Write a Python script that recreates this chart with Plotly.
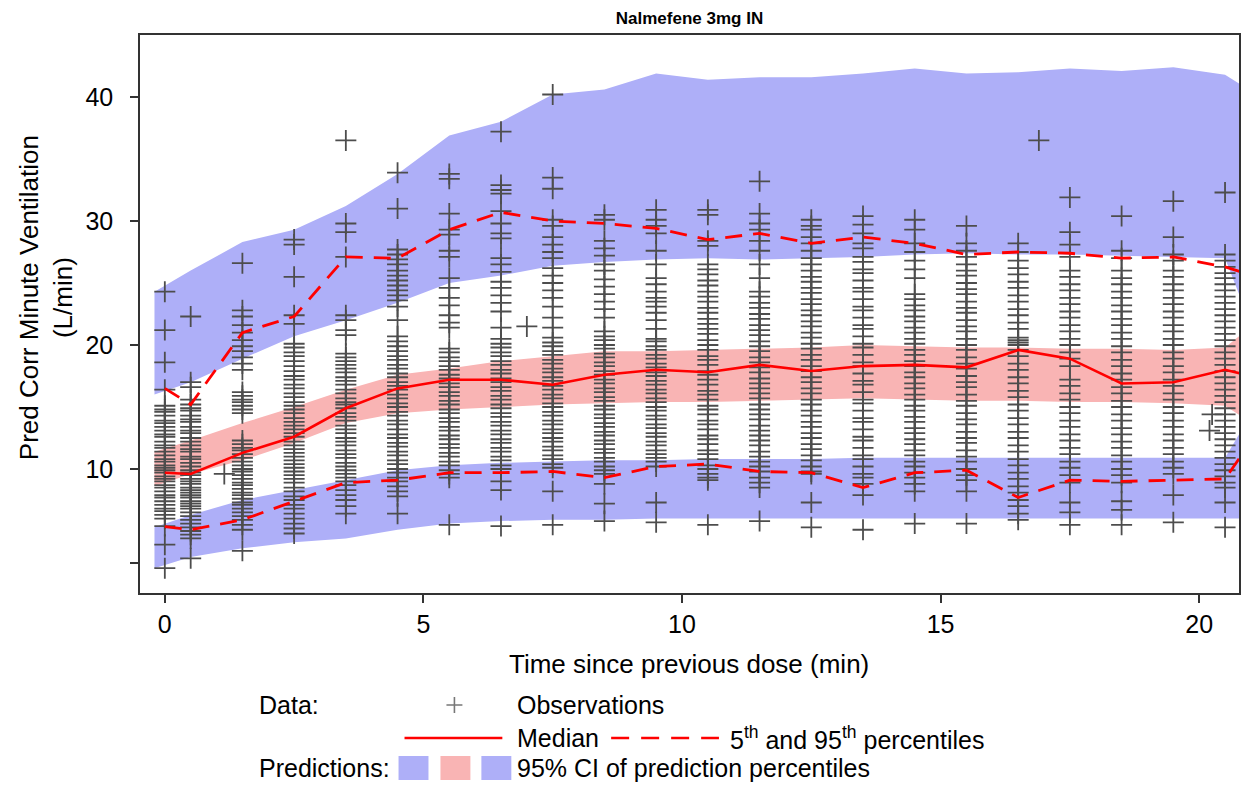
import plotly.graph_objects as go

# ---------------- data ----------------
pct_time = [0, 0.5, 1.5, 2.5, 3.5, 4.5, 5.5, 6.5, 7.5, 8.5, 9.5, 10.5,
            11.5, 12.5, 13.5, 14.5, 15.5, 16.5, 17.5, 18.5, 19.5, 20.5, 20.8]
obs_median = [9.7, 9.6, 11.3, 12.6, 14.9, 16.5, 17.2, 17.2, 16.8, 17.6, 18.0, 17.8,
              18.4, 17.9, 18.3, 18.4, 18.2, 19.6, 18.9, 16.9, 17.0, 18.0, 17.7]
obs_p05 = [5.35, 5.1, 5.9, 7.4, 8.9, 9.1, 9.7, 9.7, 9.8, 9.3, 10.2, 10.4,
           9.8, 9.7, 8.5, 9.7, 9.9, 7.7, 9.1, 9.0, 9.1, 9.2, 11.0]
obs_p95 = [16.5, 15.2, 21.0, 22.3, 27.1, 27.0, 29.3, 30.7, 30.0, 29.8, 29.4, 28.5,
           29.0, 28.2, 28.7, 28.2, 27.3, 27.5, 27.4, 27.0, 27.1, 26.3, 25.9]

band_time = [-0.2, 0.5, 1.5, 2.5, 3.5, 4.5, 5.5, 6.5, 7.5, 8.5, 9.5, 10.5,
             11.5, 12.5, 13.5, 14.5, 15.5, 16.5, 17.5, 18.5, 19.5, 20.5, 20.8]
ci_p95_hi = [24.3, 26.0, 28.3, 29.3, 31.2, 33.8, 36.9, 38.0, 40.2, 40.6, 41.9, 41.4,
             41.6, 41.6, 41.9, 42.3, 41.9, 42.0, 42.3, 42.1, 42.4, 41.8, 41.0]
ci_p95_lo = [16.0, 17.0, 18.9, 20.7, 22.0, 23.4, 25.0, 25.6, 26.4, 26.7, 26.9, 27.0,
             26.9, 27.0, 27.1, 27.3, 27.4, 27.3, 27.3, 27.2, 27.1, 27.0, 23.8]
ci_p50_hi = [11.4, 12.3, 13.7, 15.0, 16.4, 17.6, 18.1, 18.7, 19.1, 19.5, 19.5, 19.6,
             19.7, 19.8, 20.0, 19.9, 19.8, 19.8, 19.7, 19.7, 19.6, 19.8, 20.8]
ci_p50_lo = [8.6, 9.6, 10.7, 12.1, 13.7, 14.5, 14.8, 15.0, 15.2, 15.3, 15.4, 15.4,
             15.5, 15.6, 15.7, 15.6, 15.5, 15.5, 15.4, 15.4, 15.3, 15.1, 14.3]
ci_p05_hi = [5.3, 6.3, 7.5, 8.3, 9.1, 9.9, 10.3, 10.5, 10.6, 10.7, 10.7, 10.8,
             10.8, 10.8, 10.9, 10.9, 10.9, 10.9, 10.9, 10.9, 10.9, 10.9, 13.0]
ci_p05_lo = [2.0, 2.9, 3.6, 4.1, 4.4, 5.1, 5.6, 5.8, 5.9, 5.9, 6.0, 6.0,
             6.0, 6.0, 6.0, 6.0, 6.0, 6.0, 6.0, 6.0, 6.0, 6.0, 6.0]

obs_t00 = [24.3, 21.2, 18.6, 16.4, 15.1, 14.8, 14.6, 14.3, 13.9, 13.7, 13.4, 13.1, 12.8, 12.6,
           12.2, 11.9, 11.7, 11.4, 11.1, 10.8, 10.6, 10.3, 10.1, 9.9, 9.7, 9.4, 9.2, 9.0, 8.7,
           8.5, 8.2, 7.9, 7.7, 7.4, 7.1, 6.8, 6.6, 6.3, 6.0, 5.4, 3.9, 2.0]
obs_t05 = [22.3, 17.0, 16.6, 15.6, 15.2, 14.9, 14.7, 14.3, 14.0, 13.8, 13.4, 13.1, 12.9, 12.5,
           12.2, 11.9, 11.6, 11.4, 11.0, 10.8, 10.5, 10.2, 9.9, 9.7, 9.5, 9.2, 9.0, 8.8, 8.5,
           8.3, 8.1, 7.9, 7.7, 7.4, 7.2, 7.0, 6.8, 6.5, 6.2, 5.9, 5.6, 5.3, 5.0, 4.7, 4.4, 2.8]
obs_t15 = [26.6, 22.8, 22.3, 21.6, 21.0, 20.4, 19.9, 19.5, 19.0, 18.5, 18.0, 16.2, 15.9, 15.6,
           15.4, 15.1, 14.8, 14.5, 12.3, 12.0, 11.7, 11.5, 11.2, 10.9, 10.6, 10.3, 10.0, 9.8,
           9.5, 9.2, 8.9, 8.7, 8.4, 8.1, 7.9, 7.6, 7.3, 7.1, 6.8, 6.5, 6.2, 5.9, 5.5, 5.1, 3.4]
obs_t25 = [28.5, 28.1, 25.5, 22.4, 21.7, 20.1, 19.8, 19.4, 19.1, 18.7, 18.3, 17.9, 17.5, 17.2,
           16.8, 16.5, 16.1, 15.8, 15.4, 15.1, 14.8, 14.5, 14.1, 13.8, 13.5, 13.2, 12.9, 12.6,
           12.2, 11.9, 11.6, 11.3, 11.0, 10.7, 10.4, 10.1, 9.8, 9.5, 9.2, 8.9, 8.5, 8.2, 7.8,
           7.5, 7.1, 6.8, 6.4, 6.0, 5.6, 5.2, 4.8]
obs_t35 = [36.5, 29.8, 29.1, 27.1, 22.4, 22.0, 21.2, 20.8, 19.3, 19.0, 18.7, 18.4, 18.1, 17.8,
           17.4, 17.1, 16.8, 16.4, 16.1, 15.7, 15.4, 15.2, 14.9, 14.5, 14.2, 13.9, 13.5, 13.2,
           12.9, 12.5, 12.2, 11.9, 11.5, 11.2, 10.9, 10.5, 10.2, 9.9, 9.6, 9.3, 9.0, 8.7, 8.3,
           7.9, 7.5, 7.0, 6.4]
obs_t45 = [33.9, 31.0, 27.7, 27.3, 26.9, 26.5, 26.0, 25.6, 25.2, 24.8, 24.4, 24.0, 23.6, 23.1,
           22.0, 20.7, 20.3, 19.9, 19.5, 19.1, 18.8, 18.4, 18.1, 17.7, 17.4, 17.0, 16.7, 16.4,
           16.0, 15.7, 15.3, 15.0, 14.6, 14.3, 13.9, 13.6, 13.2, 12.8, 12.5, 12.1, 11.8, 11.4,
           11.1, 10.7, 10.4, 10.0, 9.7, 9.3, 9.0, 8.6, 8.2, 7.8, 6.4]
obs_t55 = [33.8, 33.4, 30.6, 29.3, 28.9, 27.6, 27.1, 25.4, 24.6, 23.8, 23.2, 22.4, 21.8, 21.4,
           19.7, 19.4, 19.0, 18.7, 18.3, 18.0, 17.6, 17.3, 16.9, 16.6, 16.2, 15.9, 15.5, 15.2,
           14.8, 14.5, 14.1, 13.8, 13.4, 13.1, 12.7, 12.4, 12.0, 11.7, 11.3, 11.0, 10.6, 10.3,
           9.9, 9.6, 9.3, 5.5]
obs_t65 = [37.2, 32.9, 32.5, 32.2, 30.8, 29.8, 29.0, 28.6, 27.0, 26.5, 25.9, 25.1, 24.6, 24.0,
           23.4, 22.7, 21.4, 20.5, 20.1, 19.8, 19.4, 19.1, 18.7, 18.4, 18.0, 17.7, 17.3, 17.0,
           16.6, 16.3, 15.9, 15.6, 15.2, 14.9, 14.5, 14.2, 13.8, 13.5, 13.1, 12.8, 12.4, 12.1,
           11.7, 11.4, 11.0, 10.7, 10.3, 10.0, 9.0, 8.3, 5.4]
obs_t75 = [40.2, 33.5, 32.6, 30.1, 29.6, 28.7, 28.1, 27.5, 27.0, 26.2, 25.6, 25.0, 24.4, 23.8,
           23.1, 22.2, 21.4, 20.6, 20.2, 19.9, 19.5, 19.2, 18.8, 18.5, 18.1, 17.8, 17.4, 17.1,
           16.7, 16.4, 16.0, 15.7, 15.3, 15.0, 14.6, 14.3, 13.9, 13.6, 13.2, 12.9, 12.5, 12.2,
           11.8, 11.5, 11.1, 10.8, 10.4, 10.1, 8.2, 5.5]
obs_t85 = [30.5, 30.1, 28.4, 27.8, 27.2, 26.5, 26.0, 25.3, 24.7, 24.1, 23.5, 22.9, 22.2, 21.1,
           20.7, 20.4, 20.0, 19.7, 19.3, 19.0, 18.6, 18.3, 17.9, 17.6, 17.2, 16.9, 16.5, 16.2,
           15.8, 15.5, 15.1, 14.8, 14.4, 14.1, 13.7, 13.4, 13.0, 12.7, 12.3, 12.0, 11.6, 11.3,
           10.9, 10.6, 10.2, 9.9, 9.6, 8.8, 7.2, 5.8]
obs_t95 = [30.9, 30.1, 29.6, 29.0, 27.6, 26.5, 25.4, 24.9, 24.3, 23.8, 23.5, 23.1, 22.6, 22.0,
           21.3, 20.5, 20.3, 19.9, 19.6, 19.2, 18.9, 18.5, 18.2, 17.8, 17.5, 17.1, 16.8, 16.4,
           16.1, 15.7, 15.4, 15.0, 14.7, 14.3, 14.0, 13.6, 13.3, 12.9, 12.6, 12.2, 11.9, 11.5,
           11.2, 10.9, 10.6, 10.2, 7.3, 5.7]
obs_t105 = [30.9, 30.5, 28.4, 28.0, 26.5, 26.1, 25.7, 25.2, 24.8, 24.3, 23.9, 23.5, 23.0, 22.6,
            22.1, 21.7, 21.3, 20.9, 20.4, 20.0, 19.6, 19.1, 18.8, 18.4, 17.9, 17.6, 17.2, 16.8,
            16.3, 16.0, 15.6, 15.1, 14.8, 14.4, 13.9, 13.6, 13.2, 12.7, 12.4, 12.0, 11.5, 11.2,
            10.8, 10.3, 10.0, 9.6, 9.3, 9.1, 5.5]
obs_t115 = [33.2, 30.6, 29.8, 29.3, 28.4, 27.6, 26.5, 25.4, 24.3, 23.9, 23.4, 23.0, 22.5, 22.1,
            21.6, 21.2, 20.8, 20.3, 19.9, 19.5, 19.0, 18.6, 18.2, 17.8, 17.3, 16.9, 16.5, 16.1,
            15.7, 15.2, 14.8, 14.4, 14.0, 13.5, 13.1, 12.7, 12.3, 11.9, 11.4, 11.0, 10.6, 10.2,
            9.8, 9.3, 8.9, 8.5, 5.8]
obs_t125 = [30.1, 29.6, 29.3, 28.7, 28.2, 27.6, 27.0, 26.5, 26.0, 25.5, 25.1, 24.6, 24.2, 23.7,
            23.3, 22.8, 22.4, 21.9, 21.5, 21.0, 20.6, 20.1, 19.7, 19.2, 18.8, 18.3, 17.9, 17.4,
            17.0, 16.5, 16.1, 15.6, 15.2, 14.7, 14.3, 13.8, 13.4, 12.9, 12.5, 12.0, 11.6, 11.1,
            10.7, 10.2, 9.8, 9.6, 7.3, 5.3]
obs_t135 = [30.4, 29.7, 29.0, 28.2, 27.8, 27.1, 26.7, 26.1, 25.8, 25.2, 24.6, 24.3, 23.7, 23.1,
            22.8, 22.2, 21.6, 21.3, 20.7, 20.1, 19.8, 19.2, 18.6, 18.3, 17.7, 17.1, 16.8, 16.2,
            15.6, 15.3, 14.7, 14.1, 13.8, 13.2, 12.6, 12.3, 11.7, 11.1, 10.8, 10.2, 9.6, 9.3,
            8.8, 7.9, 5.1]
obs_t145 = [30.1, 29.3, 28.2, 27.5, 26.8, 26.1, 25.4, 24.1, 23.7, 23.2, 22.8, 22.3, 21.9, 21.4,
            21.0, 20.5, 20.1, 19.6, 19.2, 18.7, 18.3, 17.8, 17.4, 16.9, 16.5, 16.0, 15.6, 15.1,
            14.7, 14.2, 13.8, 13.3, 12.9, 12.4, 12.0, 11.5, 11.1, 10.6, 10.2, 9.7, 9.3, 8.8,
            8.2, 5.6]
obs_t155 = [29.6, 28.2, 27.6, 27.1, 26.5, 26.0, 25.6, 25.0, 24.5, 24.1, 23.5, 23.0, 22.6, 22.0,
            21.5, 21.1, 20.5, 20.0, 19.6, 19.0, 18.5, 18.1, 17.5, 17.0, 16.6, 16.0, 15.5, 15.1,
            14.5, 14.0, 13.6, 13.0, 12.5, 12.1, 11.5, 11.0, 10.6, 10.0, 9.5, 9.1, 8.2, 5.6]
obs_t165 = [28.2, 27.5, 26.8, 26.2, 25.7, 25.1, 24.6, 24.0, 23.5, 22.9, 22.4, 21.8, 21.3, 20.6,
            20.4, 20.2, 20.0, 19.6, 19.1, 18.5, 18.0, 17.4, 16.9, 16.3, 15.8, 15.2, 14.7, 14.1,
            13.6, 13.0, 12.5, 11.9, 11.4, 10.8, 10.3, 9.7, 9.2, 8.6, 8.1, 7.5, 7.0, 6.4, 5.9]
obs_t175 = [31.9, 29.1, 28.1, 27.1, 26.0, 25.5, 24.9, 24.4, 23.8, 23.3, 22.7, 22.2, 21.6, 21.1,
            20.5, 20.0, 19.4, 18.9, 18.3, 17.2, 16.7, 16.1, 15.6, 15.0, 14.5, 13.9, 13.4, 12.8,
            12.3, 11.7, 11.2, 10.6, 10.1, 9.5, 8.9, 7.3, 6.5, 5.5]
obs_t185 = [30.4, 27.6, 27.0, 26.0, 25.4, 24.9, 24.3, 23.8, 23.2, 22.7, 22.1, 21.6, 21.0, 20.5,
            19.9, 19.4, 18.8, 18.3, 17.7, 17.2, 16.6, 16.1, 15.5, 15.0, 14.4, 13.9, 13.3, 12.8,
            12.2, 11.7, 11.1, 10.6, 10.0, 9.5, 8.9, 7.4, 6.7, 5.5]
obs_t195 = [31.6, 28.7, 27.3, 26.8, 26.0, 25.5, 24.9, 24.4, 23.8, 23.3, 22.7, 22.2, 21.6, 21.1,
            20.5, 20.0, 19.4, 18.9, 18.3, 17.8, 17.2, 16.7, 16.1, 15.6, 15.0, 14.5, 13.9, 13.4,
            12.8, 12.3, 11.7, 11.2, 10.6, 10.1, 9.6, 7.9, 5.7]
obs_t205 = [32.3, 27.3, 26.8, 26.3, 25.8, 25.4, 24.9, 24.4, 23.9, 23.4, 22.9, 22.4, 21.9, 21.4,
            20.9, 20.4, 19.9, 19.4, 18.9, 18.4, 17.9, 17.4, 16.9, 16.4, 15.9, 15.4, 14.9, 14.4,
            13.9, 13.4, 12.9, 12.4, 11.9, 11.4, 10.9, 10.4, 9.9, 9.4, 8.9, 8.5, 7.3, 5.3]
obs_times = [0, 0.5, 1.5, 2.5, 3.5, 4.5, 5.5, 6.5, 7.5, 8.5, 9.5, 10.5,
             11.5, 12.5, 13.5, 14.5, 15.5, 16.5, 17.5, 18.5, 19.5, 20.5]
obs_columns = [obs_t00, obs_t05, obs_t15, obs_t25, obs_t35, obs_t45, obs_t55, obs_t65,
               obs_t75, obs_t85, obs_t95, obs_t105, obs_t115, obs_t125, obs_t135, obs_t145,
               obs_t155, obs_t165, obs_t175, obs_t185, obs_t195, obs_t205]
extra_time = [1.15, 7.0, 16.9, 20.2, 20.25]
extra_value = [9.6, 21.5, 36.5, 13.1, 14.4]

# ---------------- style ----------------
FONT = "Liberation Sans, Arial, Helvetica, sans-serif"
BLUE = "rgb(174,175,248)"
PINK = "rgb(249,180,180)"
RED = "#ff0000"
GREY = "#4d4d4d"
DASH = "17px,11px"

fig = go.Figure()


def band(lo, hi, color):
    fig.add_trace(go.Scatter(
        x=band_time + band_time[::-1], y=hi + lo[::-1],
        fill="toself", fillcolor=color, mode="lines",
        line=dict(width=0, color=color), hoverinfo="skip", showlegend=False))


band(ci_p95_lo, ci_p95_hi, BLUE)
band(ci_p05_lo, ci_p05_hi, BLUE)
band(ci_p50_lo, ci_p50_hi, PINK)

xs, ys = [], []
for t, col in zip(obs_times, obs_columns):
    xs += [t] * len(col)
    ys += col
xs += extra_time
ys += extra_value
fig.add_trace(go.Scatter(
    x=xs, y=ys, mode="markers",
    marker=dict(symbol="cross-thin", size=15, line=dict(width=1.8, color=GREY), color=GREY),
    showlegend=False))

fig.add_trace(go.Scatter(x=pct_time, y=obs_p95, mode="lines",
                         line=dict(color=RED, width=2.8, dash=DASH), showlegend=False))
fig.add_trace(go.Scatter(x=pct_time, y=obs_p05, mode="lines",
                         line=dict(color=RED, width=2.8, dash=DASH), showlegend=False))
fig.add_trace(go.Scatter(x=pct_time, y=obs_median, mode="lines",
                         line=dict(color=RED, width=2.6), showlegend=False))

# ---------------- layout ----------------
L, R, T, B = 140, 1241, 35, 593
W, H = 1244, 786


def px(x):
    return (x - L) / (R - L)


def py(y):
    return (B - y) / (B - T)


annotations = []
shapes = []


def text(s, x, y, size=25, anchor="left", angle=0):
    annotations.append(dict(text=s, x=px(x), y=py(y), xref="paper", yref="paper",
                            xanchor=anchor, yanchor="middle", showarrow=False,
                            textangle=angle, font=dict(family=FONT, size=size, color="black")))


# axis titles
text("Pred Corr Minute Ventilation<br>(L/min)", 46, 298, size=26, anchor="center", angle=-90)
text("Time since previous dose (min)", 690, 664, size=26, anchor="center")

# legend
row1, row2, row3 = 705, 738, 768
text("Data:", 257, row1)
shapes.append(dict(type="path", xref="paper", yref="paper",
                   path=f"M {px(447)},{py(row1)} L {px(463)},{py(row1)} "
                        f"M {px(455)},{py(row1 - 8)} L {px(455)},{py(row1 + 8)}",
                   line=dict(color="#777777", width=1.6)))
text("Observations", 516, row1)
shapes.append(dict(type="line", xref="paper", yref="paper",
                   x0=px(405), x1=px(503), y0=py(row2), y1=py(row2),
                   line=dict(color=RED, width=2.6)))
text("Median", 516, row2)
shapes.append(dict(type="line", xref="paper", yref="paper",
                   x0=px(612), x1=px(720), y0=py(row2), y1=py(row2),
                   line=dict(color=RED, width=2.6, dash="18px,12px")))
text("5<sup>th</sup> and 95<sup>th</sup> percentiles", 729, row2)
text("Predictions:", 257, row3)
for x0, c in [(399, BLUE), (441, PINK), (482, BLUE)]:
    shapes.append(dict(type="rect", xref="paper", yref="paper",
                       x0=px(x0), x1=px(x0 + 30), y0=py(row3 + 12), y1=py(row3 - 12),
                       line=dict(width=0), fillcolor=c))
text("95% CI of prediction percentiles", 516, row3)

axis_common = dict(showline=True, mirror=True, linecolor="#333333", linewidth=1.5,
                   showgrid=False, zeroline=False, ticks="outside", ticklen=8,
                   tickwidth=1.5, tickcolor="#333333",
                   tickfont=dict(family=FONT, size=25, color="black"))

fig.update_layout(
    width=W, height=H,
    margin=dict(l=L, r=W - R, t=T, b=H - B, pad=0),
    paper_bgcolor="white", plot_bgcolor="white",
    title=dict(text="<b>Nalmefene 3mg IN</b>", x=0.5, xref="paper", xanchor="center",
               y=1 - 18 / H, yref="container", yanchor="middle",
               font=dict(family=FONT, size=17, color="black")),
    xaxis=dict(range=[-0.48, 20.77], tickvals=[0, 5, 10, 15, 20], **axis_common),
    yaxis=dict(range=[0, 45], tickvals=[2.4, 10, 20, 30, 40],
               ticktext=["", "10", "20", "30", "40"], ticklabelstandoff=12, **axis_common),
    annotations=annotations, shapes=shapes, showlegend=False,
)

fig.write_html("out.html", config={"displayModeBar": False},
               post_script="document.body.style.margin='0px';document.body.style.padding='0px';")
